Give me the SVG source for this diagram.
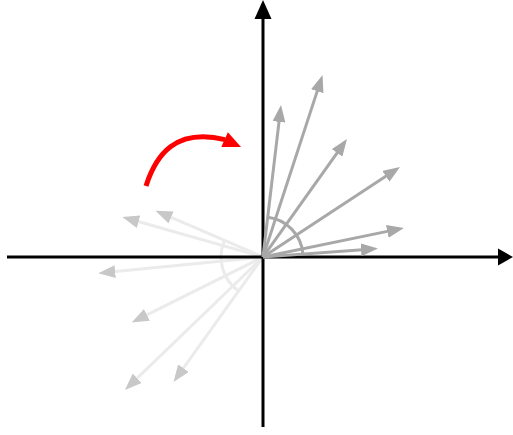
<svg xmlns="http://www.w3.org/2000/svg" width="513" height="435" viewBox="0 0 513 435">
  <defs>
    <style>
      .axis { stroke: #000; stroke-width: 3; fill: none; }
      .vec { stroke: #a8a8a8; stroke-width: 3; fill: none; marker-end: url(#headGray); }
      .ghost { stroke: #ebebeb; stroke-width: 3; fill: none; marker-end: url(#headGhost); }
      .arc { stroke: #a8a8a8; stroke-width: 3; fill: none; }
      .ghostArc { stroke: #ebebeb; stroke-width: 3; fill: none; }
    </style>
    <marker id="headGray" markerUnits="userSpaceOnUse" markerWidth="17" markerHeight="13" refX="5" refY="6.5" orient="auto">
      <path d="M0,0 L17,6.5 L0,13 Z" fill="#a8a8a8"/>
    </marker>
    <marker id="headGhost" markerUnits="userSpaceOnUse" markerWidth="17" markerHeight="13" refX="5" refY="6.5" orient="auto">
      <path d="M0,0 L17,6.5 L0,13 Z" fill="#c8c8c8"/>
    </marker>
  </defs>

  <g id="rotated-vectors">
    <path class="ghostArc" d="M224.4,240.6 A42,42 0 0 0 238.6,291.1"/>
    <line class="ghost" x1="263" y1="257" x2="133.8" y2="220.3"/>
    <line class="ghost" x1="263" y1="257" x2="166.5" y2="215.4"/>
    <line class="ghost" x1="263" y1="257" x2="110.2" y2="272.1"/>
    <line class="ghost" x1="263" y1="257" x2="142.4" y2="317.1"/>
    <line class="ghost" x1="263" y1="257" x2="133.6" y2="381.7"/>
    <line class="ghost" x1="263" y1="257" x2="180.5" y2="372.2"/>
  </g>

  <g id="axes">
    <line class="axis" x1="7" y1="257" x2="499" y2="257"/>
    <polygon points="498,248.5 513,257 498,265.5" fill="#000"/>
    <line class="axis" x1="263" y1="427" x2="263" y2="18"/>
    <polygon points="254.5,19 263,0 271.5,19" fill="#000"/>
  </g>

  <g id="original-vectors">
    <path class="arc" d="M302.9,254.1 A40,40 0 0 0 267.7,217.3"/>
    <line class="vec" x1="263" y1="257" x2="279.6" y2="116.9"/>
    <line class="vec" x1="263" y1="257" x2="318.8" y2="86.4"/>
    <line class="vec" x1="263" y1="257" x2="340.0" y2="148.8"/>
    <line class="vec" x1="263" y1="257" x2="390.0" y2="173.6"/>
    <line class="vec" x1="263" y1="257" x2="392.2" y2="230.4"/>
    <line class="vec" x1="263" y1="257" x2="366.0" y2="249.4"/>
  </g>

  <g id="rotation-arrow">
    <path d="M146,186 C156,155 175,128 225,139.6" stroke="#ff0000" stroke-width="5" fill="none"/>
    <polygon points="241,147 221.3,146.9 227.9,132.3" fill="#ff0000"/>
  </g>
</svg>
